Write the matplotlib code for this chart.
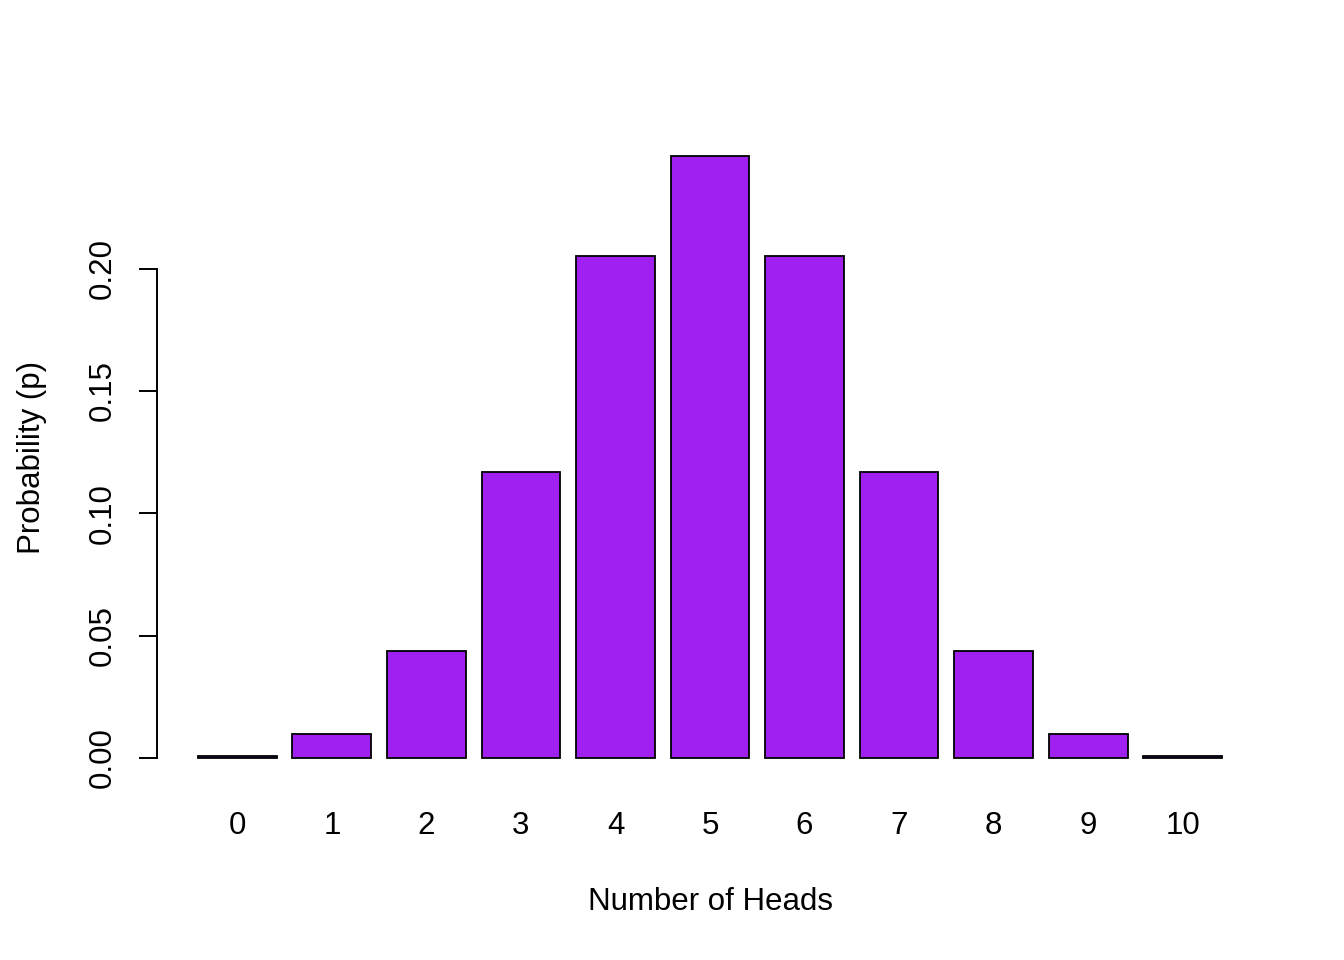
import matplotlib
matplotlib.use("Agg")
import matplotlib.pyplot as plt

plt.rcParams['font.family'] = ['Liberation Sans', 'DejaVu Sans']

# binomial probabilities
heads = ['0', '1', '2', '3', '4', '5', '6', '7', '8', '9', '10']
prob = [0.000977, 0.00977, 0.0439, 0.117, 0.205, 0.246,
        0.205, 0.117, 0.0439, 0.00977, 0.000977]
y_ticks = [0.00, 0.05, 0.10, 0.15, 0.20]

W, H = 1344, 960
FS = 22.5
fig = plt.figure(figsize=(W / 100, H / 100), dpi=100)
# plot region in pixels: left 157, right 1263, top 132, bottom 782
ax = fig.add_axes([157 / W, (H - 782) / H, (1263 - 157) / W, (782 - 132) / H])

# R-style barplot: width 1, space 0.2
centers = [0.7 + 1.2 * i for i in range(len(prob))]
ax.bar(centers, prob, width=1.0, color='#A020F0', edgecolor='black', linewidth=1.3)

ymax = max(prob)
ax.set_xlim(0.2 - 0.52, 13.2 + 0.52)
ax.set_ylim(-0.04 * ymax, ymax * 1.04)

for s in ['top', 'right', 'bottom']:
    ax.spines[s].set_visible(False)
ax.spines['left'].set_bounds(0, 0.20)
ax.spines['left'].set_linewidth(1.4)

ax.set_yticks(y_ticks)
ax.set_yticklabels([f"{v:.2f}" for v in y_ticks], rotation=90, va='center', fontsize=FS)
ax.tick_params(axis='y', length=13, width=1.4, pad=15.5)

ax.set_xticks(centers)
ax.set_xticklabels(heads, fontsize=FS)
ax.tick_params(axis='x', length=0, pad=21)

ax.set_xlabel("Number of Heads", fontsize=FS, labelpad=33)
ax.set_ylabel("Probability (p)", fontsize=FS, labelpad=29)

fig.savefig("out.png", dpi=100)
